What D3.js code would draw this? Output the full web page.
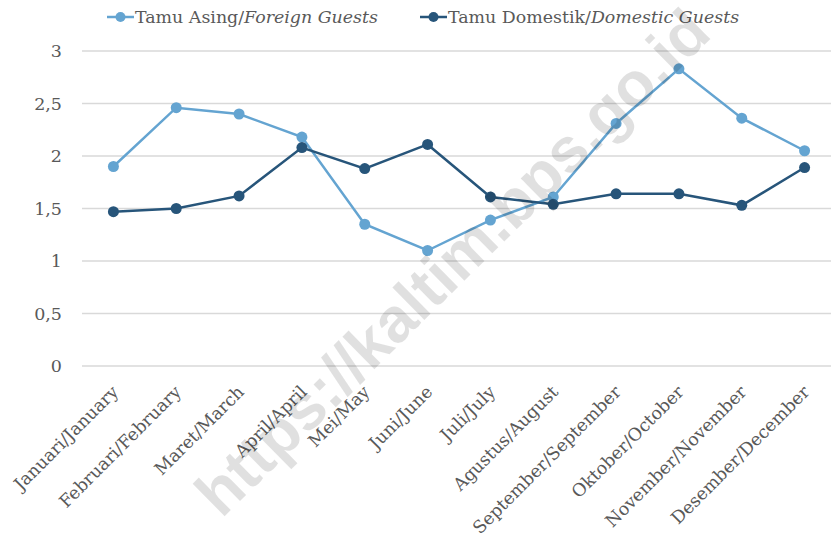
<!DOCTYPE html>
<html>
<head>
<meta charset="utf-8">
<script src="https://cdn.jsdelivr.net/npm/d3@7"></script>
<style>
  body { margin: 0; background: #fff; }
  #chart { width: 831px; height: 533px; }
  text { font-family: "DejaVu Serif", "Liberation Serif", serif; fill: #595959; }
</style>
</head>
<body>
<div id="chart"></div>
<script>
// months, Indonesian/English
let months = ["Januari/January", "Februari/February", "Maret/March", "April/April", "Mei/May", "Juni/June",
  "Juli/July", "Agustus/August", "September/September", "Oktober/October", "November/November", "Desember/December"];
let foreignGuests = [1.90, 2.46, 2.40, 2.18, 1.35, 1.10, 1.39, 1.61, 2.31, 2.83, 2.36, 2.05];
let domesticGuests = [1.47, 1.50, 1.62, 2.08, 1.88, 2.11, 1.61, 1.54, 1.64, 1.64, 1.53, 1.89];
let yTicks = [0, 0.5, 1, 1.5, 2, 2.5, 3];
let seriesNames = [["Tamu Asing/", "Foreign Guests"], ["Tamu Domestik/", "Domestic Guests"]];
let colors = ["#64a4d1", "#27557a"];

let width = 831, height = 533;
let plotLeft = 82, plotRight = 836, plotTop = 51, plotBottom = 366;

let svg = d3.select("#chart").append("svg")
  .attr("width", width)
  .attr("height", height);

let x = d3.scalePoint().domain(months).range([plotLeft, plotRight]).padding(0.5);
let y = d3.scaleLinear().domain([0, 3]).range([plotBottom, plotTop]);

// gridlines
svg.append("g").selectAll("line")
  .data(yTicks).enter().append("line")
  .attr("x1", plotLeft).attr("x2", width)
  .attr("y1", d => y(d)).attr("y2", d => y(d))
  .style("stroke", "#d9d9d9")
  .style("stroke-width", 1.3);

// y tick labels
svg.append("g").selectAll("text")
  .data(yTicks).enter().append("text")
  .attr("x", 62).attr("y", d => y(d))
  .attr("dy", "0.35em")
  .attr("text-anchor", "end")
  .style("font-size", "17.5px")
  .text(d => String(d).replace(".", ","));

// x labels
svg.append("g").selectAll("text")
  .data(months).enter().append("text")
  .attr("text-anchor", "end")
  .attr("transform", d => "translate(" + (x(d) + 6) + "," + 393 + ") rotate(-45)")
  .style("font-size", "17.5px")
  .text(d => d);

let line = d3.line().x((d, i) => x(months[i])).y(d => y(d));

[foreignGuests, domesticGuests].forEach(function(vals, s) {
  let g = svg.append("g");
  g.append("path")
    .attr("d", line(vals))
    .style("fill", "none")
    .style("stroke", colors[s])
    .style("stroke-width", 2.5);
  g.selectAll("circle")
    .data(vals).enter().append("circle")
    .attr("cx", (d, i) => x(months[i]))
    .attr("cy", d => y(d))
    .attr("r", 5.5)
    .style("fill", colors[s]);
});

// legend
let legendX = [107, 420];
seriesNames.forEach(function(name, s) {
  let lg = svg.append("g").attr("transform", "translate(" + legendX[s] + ",17)");
  lg.append("line").attr("x1", 0).attr("x2", 27)
    .style("stroke", colors[s]).style("stroke-width", 2.5);
  lg.append("circle").attr("cx", 13.5).attr("r", 5).style("fill", colors[s]);
  let t = lg.append("text").attr("x", 28).attr("dy", "0.35em").style("font-size", "17.4px");
  t.append("tspan").text(name[0]);
  t.append("tspan").style("font-style", "italic").text(name[1]);
});

// watermark
svg.append("text")
  .attr("transform", "translate(452,262) rotate(-44.5)")
  .attr("text-anchor", "middle")
  .attr("dy", "0.35em")
  .style("font-family", "'Liberation Sans', Arial, sans-serif")
  .style("font-weight", "bold")
  .style("font-size", "63px")
  .style("fill", "#000")
  .style("fill-opacity", 0.12)
  .text("https://kaltim.bps.go.id");
</script>
</body>
</html>
